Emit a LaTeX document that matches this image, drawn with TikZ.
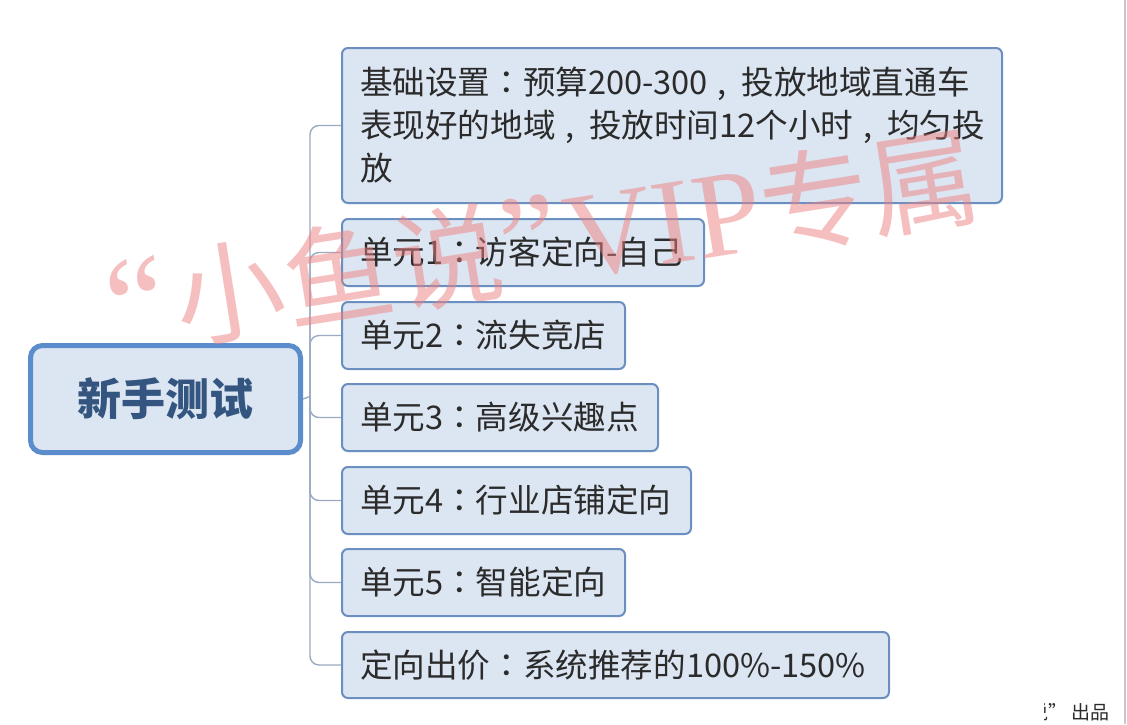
\documentclass[tikz,border=0pt]{standalone}
\usepackage{fontspec}
\setmainfont{Noto Sans CJK SC}
\newfontfamily\wmlatin{Liberation Serif}
\newfontfamily\tcpunct{Noto Sans CJK TC}
\newcommand{\qcolon}{{\tcpunct ：}}
\newcommand{\qcomma}{\mbox{\kern0.3em,\kern0.45em}}
\definecolor{boxfill}{HTML}{DCE6F2}
\definecolor{boxline}{HTML}{6A8FC0}
\definecolor{rootline}{HTML}{5B8CCB}
\definecolor{roottext}{HTML}{33557F}
\definecolor{connc}{HTML}{9AAAC0}
\definecolor{txt}{HTML}{2B2B2B}
\definecolor{wmc}{HTML}{EE8080}
\definecolor{edgec}{HTML}{C8C8CC}
\begin{document}
\begin{tikzpicture}[x=1pt,y=-1pt,
  rootbox/.style={draw=rootline, line width=5pt, fill=boxfill, rounded corners=12pt,
    text=roottext, font=\fontsize{44}{48}\selectfont\bfseries, anchor=north west,
    inner sep=0pt},
  childbox/.style={draw=boxline, line width=2pt, fill=boxfill, rounded corners=6pt,
    text=txt, font=\fontsize{32.6}{43}\selectfont, align=left, anchor=north west,
    inner xsep=18pt, inner ysep=0pt},
  connline/.style={draw=connc, line width=1.4pt, rounded corners=9pt},
  wmark/.style={text=wmc, opacity=0.5, font=\fontsize{110}{110}\selectfont, inner sep=0pt}
]
\useasboundingbox (0,0) rectangle (1127,724);
\fill[white] (0,0) rectangle (1127,724);
\draw[edgec, line width=2pt] (1125,0) -- (1125,724);

\node[rootbox, minimum width=270pt, minimum height=107pt] (root) at (28,343) {新手测试};

\node[childbox, text width=624pt, minimum height=155pt] (c1) at (341,47)
  {基础设置\qcolon 预算200-300\qcomma 投放地域直通车\\表现好的地域\qcomma 投放时间12个小时\qcomma 均匀投\\放};
\node[childbox, text width=326pt, minimum height=67pt] (c2) at (341,218) {单元1\qcolon 访客定向-自己};
\node[childbox, text width=247pt, minimum height=67pt] (c3) at (341,301) {单元2\qcolon 流失竞店};
\node[childbox, text width=280pt, minimum height=67pt] (c4) at (341,383) {单元3\qcolon 高级兴趣点};
\node[childbox, text width=313pt, minimum height=67pt] (c5) at (341,466) {单元4\qcolon 行业店铺定向};
\node[childbox, text width=247pt, minimum height=67pt] (c6) at (341,548) {单元5\qcolon 智能定向};
\node[childbox, text width=511pt, minimum height=66pt] (c7) at (341,631) {定向出价\qcolon 系统推荐的100\%-150\%};

\coordinate (hub) at (310,396.5);
\draw[connline] (root.east) -- (hub);
\foreach \c in {c1,c2,c3,c4,c5,c6,c7} {
  \draw[connline] (hub) |- (\c.west);
}

\begin{scope}
  \clip (1044,690) rectangle (1122,724);
  \node[anchor=base east, font=\fontsize{19}{19}\selectfont, text=txt, inner sep=0pt] (credit) at (1110,719) {小鱼说” 出品};
\end{scope}

\node[wmark, rotate=9] (wmk) at (543,242)
  {{\wmlatin\fontsize{135}{135}\selectfont “}\hspace{8pt}小鱼说{\wmlatin\fontsize{135}{135}\selectfont ”}\hspace{6pt}{\wmlatin\fontsize{122}{122}\selectfont VIP}专属};
\end{tikzpicture}
\end{document}
